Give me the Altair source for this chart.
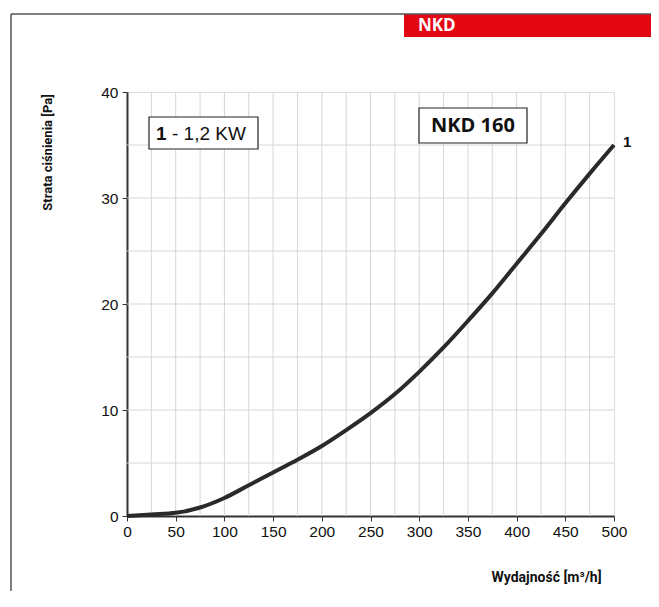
import altair as alt
import pandas as pd

flow = [0, 25, 50, 75, 100, 125, 150, 175, 200, 225, 250, 275, 300, 325, 350, 375, 400, 425, 450, 475, 500]
loss = [0, 0.15, 0.3, 0.8, 1.7, 2.9, 4.1, 5.3, 6.6, 8.1, 9.7, 11.5, 13.6, 15.9, 18.4, 21.0, 23.8, 26.6, 29.5, 32.3, 35.0]
grid_x = [25, 50, 75, 100, 125, 150, 175, 200, 225, 250, 275, 300, 325, 350, 375, 400, 425, 450, 475]
grid_y = [5, 10, 15, 20, 25, 30, 35]
x_ticks = [0, 50, 100, 150, 200, 250, 300, 350, 400, 450, 500]
y_ticks = [0, 10, 20, 30, 40]

W, H = 487, 424
xs = alt.Scale(domain=[0, 500], nice=False, zero=True)
ys = alt.Scale(domain=[0, 40], nice=False)
x_title = "Wydajność [m³/h]"
y_title = "Strata ciśnienia [Pa]"

df = pd.DataFrame({"flow": flow, "loss": loss})
gx = pd.DataFrame({"v": grid_x})
gy = pd.DataFrame({"v": grid_y})

label_font = "Liberation Sans"
title_font = "Roboto"

x_axis = alt.Axis(
    values=x_ticks, grid=False, title=x_title, labelFlush=False,
    labelFont=label_font, labelFontSize=15.5, labelColor="#111", labelPadding=3,
    tickSize=5, tickColor="#333", domainColor="#333", domainWidth=2,
    titleFont=title_font, titleFontSize=14, titleFontWeight="bold", titleColor="#111",
    titleX=419, titleY=61, titleAlign="center", titleBaseline="middle")
y_axis = alt.Axis(
    values=y_ticks, grid=False, title=y_title, labelFlush=False,
    labelFont=label_font, labelFontSize=15.5, labelColor="#111", labelPadding=4,
    tickSize=5, tickColor="#333", domainColor="#333", domainWidth=2,
    titleFont=title_font, titleFontSize=13, titleFontWeight="bold", titleColor="#111",
    titleX=-80, titleY=60, titleAngle=-90, titleAlign="center", titleBaseline="middle")

axes_layer = alt.Chart(df).mark_line(opacity=0).encode(
    x=alt.X("flow:Q", scale=xs, axis=x_axis, title=x_title),
    y=alt.Y("loss:Q", scale=ys, axis=y_axis, title=y_title),
)

gridx = alt.Chart(gx).mark_rule(color="#d6d6d6", strokeWidth=1).encode(
    x=alt.X("v:Q", scale=xs, title=x_title)
)
gridy = alt.Chart(gy).mark_rule(color="#d6d6d6", strokeWidth=1).encode(
    y=alt.Y("v:Q", scale=ys, title=y_title)
)

line = alt.Chart(df).mark_line(color="#2a2a2a", strokeWidth=4, interpolate="monotone").encode(
    x=alt.X("flow:Q", scale=xs, title=x_title),
    y=alt.Y("loss:Q", scale=ys, title=y_title),
)

end_df = pd.DataFrame({"flow": [flow[-1]], "loss": [loss[-1]], "t": ["1"]})
end_label = alt.Chart(end_df).mark_text(
    font=label_font, fontSize=15, fontWeight="bold", color="#111", align="left", dx=9, dy=-3
).encode(x=alt.X("flow:Q", scale=xs, title=x_title), y=alt.Y("loss:Q", scale=ys, title=y_title), text="t:N")

one = pd.DataFrame({"t": [""]})
legend_box = alt.Chart(one).mark_rect(fill="white", stroke="#222", strokeWidth=1.2).encode(
    x=alt.value(22), x2=alt.value(131), y=alt.value(25), y2=alt.value(57))
legend_num = alt.Chart(pd.DataFrame({"t": ["1"]})).mark_text(
    font=label_font, fontSize=19, fontWeight="bold", color="#111", align="left", baseline="middle"
).encode(x=alt.value(29), y=alt.value(42), text="t:N")
legend_txt = alt.Chart(pd.DataFrame({"t": ["- 1,2 KW"]})).mark_text(
    font=label_font, fontSize=19, color="#111", align="left", baseline="middle"
).encode(x=alt.value(45), y=alt.value(42), text="t:N")

model_box = alt.Chart(one).mark_rect(fill="white", stroke="#222", strokeWidth=1.2).encode(
    x=alt.value(292), x2=alt.value(400), y=alt.value(16), y2=alt.value(51))
model_txt = alt.Chart(pd.DataFrame({"t": ["NKD 160"]})).mark_text(
    font="Open Sans", fontSize=20, fontWeight="bold", color="#111", align="center", baseline="middle"
).encode(x=alt.value(346), y=alt.value(34), text="t:N")

band = alt.Chart(one).mark_rect(fill="#e30613").encode(
    x=alt.value(277), x2=alt.value(540), y=alt.value(-78), y2=alt.value(-55))
band_txt = alt.Chart(pd.DataFrame({"t": ["NKD"]})).mark_text(
    font="Open Sans", fontSize=17, fontWeight="bold", color="white", align="left", baseline="middle"
).encode(x=alt.value(291), y=alt.value(-66), text="t:N")

frame_top = alt.Chart(one).mark_rule(color="#555", strokeWidth=1.5).encode(
    x=alt.value(-116), x2=alt.value(540), y=alt.value(-78))
frame_left = alt.Chart(one).mark_rule(color="#555", strokeWidth=1.5).encode(
    x=alt.value(-116), y=alt.value(-78), y2=alt.value(520))

chart = alt.layer(
    axes_layer, gridx, gridy, line, end_label,
    legend_box, legend_num, legend_txt, model_box, model_txt,
    band, band_txt, frame_top, frame_left
).properties(
    width=W, height=H,
    padding={"left": 119, "top": 84, "right": 37, "bottom": 75},
    autosize=alt.AutoSizeParams(type="none"),
).configure_view(stroke="#9a9a9a", strokeWidth=2).configure(background="white")

chart.save("out.html", embed_options={"renderer": "svg", "actions": False})
